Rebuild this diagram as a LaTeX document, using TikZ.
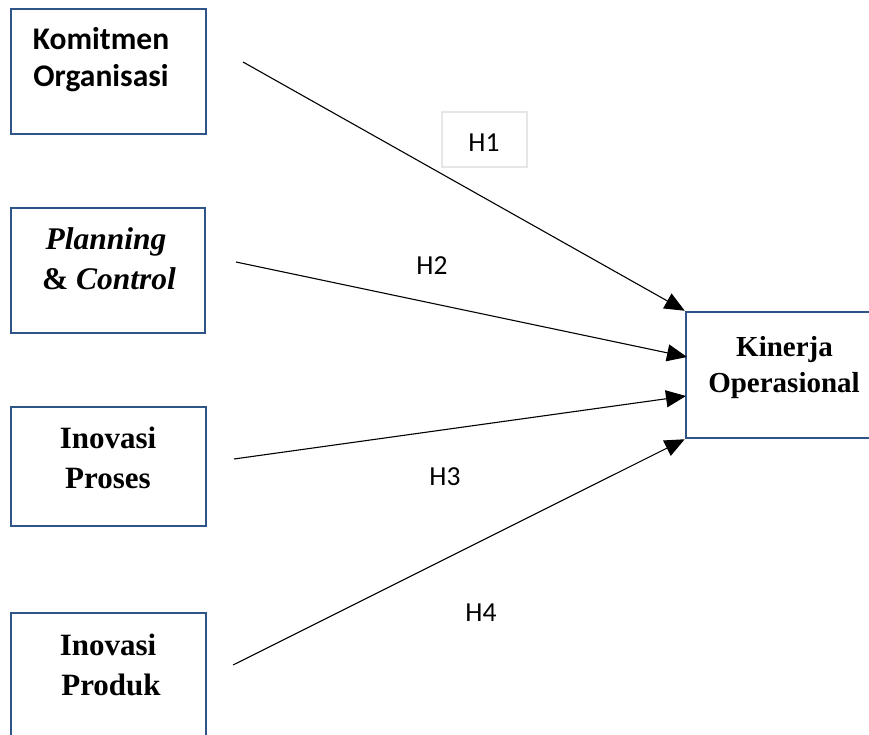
\documentclass[tikz,border=0pt]{standalone}
\usepackage{fontspec}
\setmainfont{Liberation Serif}
\newfontfamily\calibri{Carlito}
\usetikzlibrary{arrows.meta}
\definecolor{boxblue}{RGB}{46,84,136}
\definecolor{lblgray}{RGB}{230,230,230}
\tikzset{
  vbox/.style={draw=boxblue, line width=2.5pt, inner sep=0pt, rectangle},
  ttlsans/.style={anchor=base, inner sep=0pt, font=\calibri\bfseries\fontsize{31.5}{38}\selectfont},
  ttlserif/.style={anchor=base, inner sep=0pt, font=\bfseries\fontsize{31}{38}\selectfont},
  ttlsmall/.style={anchor=base, inner sep=0pt, font=\bfseries\fontsize{29}{35}\selectfont},
  hlbl/.style={inner sep=0pt, font=\calibri\fontsize{27.5}{32}\selectfont},
  lblbox/.style={draw=lblgray, line width=1.5pt, minimum width=85pt, minimum height=55pt, inner sep=0pt},
  conn/.style={-{Triangle[length=20pt,width=17pt]}, line width=1.1pt, black}
}
\begin{document}
\begin{tikzpicture}[x=1pt,y=-1pt]
\useasboundingbox (0,0) rectangle (869,735);
\clip (0,0) rectangle (869,735);
% boxes
\node[vbox, minimum width=195pt, minimum height=125pt] (ko) at (108.5,71.5) {};
\node[vbox, minimum width=194pt, minimum height=125pt] (pc) at (108,270.5) {};
\node[vbox, minimum width=195pt, minimum height=119pt] (ip) at (108.5,466.5) {};
\node[vbox, minimum width=195pt, minimum height=147pt] (id) at (108.5,686.5) {};
\node[vbox, minimum width=214pt, minimum height=126pt] (kn) at (793,375) {};
% texts
\node[ttlsans] (ko1) at (101,50) {Komitmen};
\node[ttlsans] (ko2) at (101,87) {Organisasi};
\node[ttlserif, font=\bfseries\itshape\fontsize{31.5}{38}\selectfont] (pc1) at (106,250) {Planning};
\node[ttlserif, font=\bfseries\fontsize{31.5}{38}\selectfont] (pc2) at (109,289) {\& \textit{Control}};
\node[ttlserif] (ip1) at (108,448) {Inovasi};
\node[ttlserif] (ip2) at (108,488) {Proses};
\node[ttlserif] (id1) at (108,655) {Inovasi};
\node[ttlserif] (id2) at (111,695) {Produk};
\node[ttlsmall] (kn1) at (784.5,356) {Kinerja};
\node[ttlsmall] (kn2) at (784,392) {Operasional};
% connector starts
\coordinate (s1) at (243,62);
\coordinate (s2) at (236,262);
\coordinate (s3) at (234,459);
\coordinate (s4) at (233,665);
\coordinate (e2) at (687,357);
\coordinate (e3) at (686,396);
% connectors
\draw[conn] (s1) -- (kn.north west);
\draw[conn] (s2) -- (e2);
\draw[conn] (s3) -- (e3);
\draw[conn] (s4) -- (kn.south west);
% labels
\node[lblbox] (h1box) at (484.5,139.5) {};
\node[hlbl] (h1) at (484,143) {H1};
\node[hlbl] (h2) at (432,266) {H2};
\node[hlbl] (h3) at (445,477) {H3};
\node[hlbl] (h4) at (481,613) {H4};
\end{tikzpicture}
\end{document}
